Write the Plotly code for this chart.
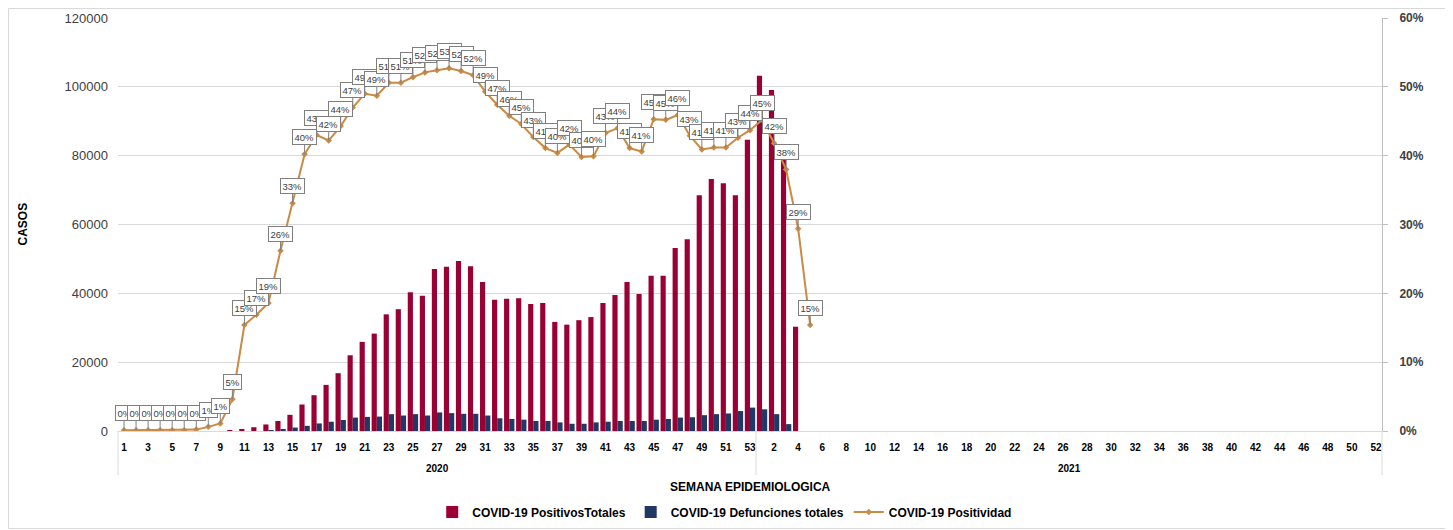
import plotly.graph_objects as go

weeks_2020 = list(range(1, 54))
weeks_2021 = list(range(1, 53))

positivos_2020 = [0, 0, 0, 0, 0, 0, 0, 0, 0, 150, 400, 1100, 1900, 2900, 4700, 7700, 10400, 13400,
                  16800, 22000, 25900, 28300, 33900, 35400, 40300, 39300, 47100, 47700, 49400, 47900,
                  43300, 38100, 38400, 38600, 36900, 37200, 31700, 30900, 32200, 33100, 37200, 39500,
                  43300, 39800, 45100, 45100, 53200, 55700, 68500, 73200, 72000, 68500, 84600]
positivos_2021 = [103200, 99100, 79000, 30300]

defunciones_2020 = [0, 0, 0, 0, 0, 0, 0, 0, 0, 0, 0, 0, 200, 600, 1000, 1500, 2200, 2700, 3200, 3900,
                    4100, 4200, 4900, 4500, 4900, 4500, 5400, 5200, 5000, 5000, 4500, 3700, 3500, 3300,
                    2900, 2900, 2500, 2100, 2100, 2500, 2700, 2900, 2900, 2900, 3300, 3500, 3900, 4000,
                    4600, 4900, 5100, 5800, 6800]
defunciones_2021 = [6300, 4900, 2000]

positividad_2020 = [0.1, 0.1, 0.1, 0.1, 0.1, 0.1, 0.2, 0.6, 1.1, 4.6, 15.4, 16.9, 18.6, 26.2, 33.1,
                    40.2, 43.0, 42.2, 44.3, 47.0, 49.0, 48.7, 50.6, 50.6, 51.4, 52.1, 52.4, 52.7, 52.3,
                    51.7, 49.3, 47.4, 45.8, 44.6, 42.7, 41.1, 40.4, 41.6, 39.8, 39.9, 43.3, 44.0, 41.1,
                    40.6, 45.3, 45.2, 45.9, 42.9, 40.9, 41.2, 41.2, 42.6, 43.7]
positividad_2021 = [45.2, 41.8, 38.0, 29.4, 15.4]

y_ticks_left = [0, 20000, 40000, 60000, 80000, 100000, 120000]
y_ticks_right = [0, 10, 20, 30, 40, 50, 60]

RED = "#9B0034"
NAVY = "#203864"
ORANGE = "#C98A43"
FONT = "Liberation Sans, Arial, sans-serif"

# page body has an 8px margin; size the figure so it fits the 1453x530 window
OFF = 8
W, H = 1453 - OFF, 530 - OFF
ML, MR, MT, MB = 118 - OFF, 71, 18 - OFF, 99
PW, PH = W - ML - MR, H - MT - MB
PLOT_BOTTOM = 431  # screen row of the x axis

cats = [f"2020-{w}" for w in weeks_2020] + [f"2021-{w}" for w in weeks_2021]
week_labels = [str(w) for w in weeks_2020] + [str(w) for w in weeks_2021]
n = len(cats)

def pad(vals):
    return vals + [None] * (len(weeks_2021) - len(vals))

pos = positivos_2020 + pad(positivos_2021)
dfn = defunciones_2020 + pad(defunciones_2021)
ptv = positividad_2020 + pad(positividad_2021)

fig = go.Figure()
fig.add_trace(go.Bar(x=cats, y=pos, name="COVID-19 PositivosTotales", marker_color=RED,
                     marker_line_width=0))
fig.add_trace(go.Bar(x=cats, y=dfn, name="COVID-19 Defunciones totales", marker_color=NAVY,
                     marker_line_width=0))
fig.add_trace(go.Scatter(x=cats, y=ptv, name="COVID-19 Positividad", yaxis="y2",
                         mode="lines+markers", line=dict(color=ORANGE, width=2),
                         marker=dict(symbol="diamond", size=5, color=ORANGE)))

annotations = []
for c, v in zip(cats, ptv):
    if v is None:
        continue
    annotations.append(dict(x=c, y=v, xref="x", yref="y2", text=f"{v:.0f}%",
                            showarrow=True, arrowhead=0, arrowwidth=1, arrowcolor="#808080",
                            ax=0, ay=-17, standoff=0,
                            bgcolor="white", bordercolor="#7F7F7F", borderwidth=1, borderpad=1.5,
                            font=dict(family=FONT, size=9.5, color="#404040")))

def py(pix):
    """paper y for a screen pixel row"""
    return (PLOT_BOTTOM - pix) / PH

def px(pix):
    """paper x for a screen pixel column"""
    return (pix - (ML + OFF)) / PW

frac2020 = len(weeks_2020) / n
common = dict(xref="paper", yref="paper", showarrow=False, xanchor="center", yanchor="middle")
annotations.append(dict(x=frac2020 / 2, y=py(468), text="<b>2020</b>",
                        font=dict(family=FONT, size=10, color="#000000"), **common))
annotations.append(dict(x=frac2020 + (1 - frac2020) / 2, y=py(468), text="<b>2021</b>",
                        font=dict(family=FONT, size=10, color="#000000"), **common))
annotations.append(dict(x=0.5, y=py(487), text="<b>SEMANA EPIDEMIOLOGICA</b>",
                        font=dict(family=FONT, size=12, color="#000000"), **common))
annotations.append(dict(x=px(22), y=0.5, text="<b>CASOS</b>", textangle=-90,
                        font=dict(family=FONT, size=12, color="#000000"), **common))

shapes = []
for xp in [0, frac2020, 1]:
    shapes.append(dict(type="line", xref="paper", yref="paper", x0=xp, x1=xp, y0=0, y1=py(475),
                       line=dict(color="#D9D9D9", width=1)))
# outer chart border (at figure edges)
shapes.append(dict(type="rect", xref="paper", yref="paper",
                   x0=(0.5 - ML) / PW, x1=(W - 1.5 - ML) / PW,
                   y0=-(MB - 1.5) / PH, y1=1 + (MT - 0.5) / PH,
                   line=dict(color="#D9D9D9", width=1)))

fig.update_layout(
    width=W, height=H,
    margin=dict(l=ML, r=MR, t=MT, b=MB, autoexpand=False),
    paper_bgcolor="white", plot_bgcolor="white",
    barmode="group", bargap=0.14, bargroupgap=0,
    font=dict(family=FONT, color="#404040"),
    showlegend=True,
    legend=dict(orientation="h", x=0.48, xanchor="center", y=py(512), yanchor="middle",
                font=dict(family=FONT, size=12, color="#000000", weight="bold"), itemwidth=30,
                traceorder="normal"),
    xaxis=dict(type="category", categoryorder="array", categoryarray=cats,
               range=[-0.5, n - 0.5], automargin=False,
               tickmode="array", tickvals=cats[::2], ticktext=week_labels[::2],
               tickangle=0, ticklabelstandoff=7,
               tickfont=dict(family=FONT, size=10, color="#000000", weight="bold"),
               showgrid=False, showline=True, linecolor="#D9D9D9", linewidth=1,
               ticks="", zeroline=False),
    yaxis=dict(range=[0, 120000], tickvals=y_ticks_left, automargin=False,
               ticktext=[str(v) for v in y_ticks_left],
               showgrid=True, gridcolor="#D9D9D9", gridwidth=1, zeroline=False,
               showline=False, ticks="", ticklabelstandoff=9,
               tickfont=dict(family=FONT, size=13, color="#404040")),
    yaxis2=dict(range=[0, 60], overlaying="y", side="right", tickvals=y_ticks_right,
                automargin=False,
                ticktext=[f"{v}%" for v in y_ticks_right],
                showgrid=False, zeroline=False, showline=True, linecolor="#BFBFBF", linewidth=1,
                ticks="outside", ticklen=5, tickcolor="#BFBFBF", ticklabelstandoff=9,
                tickfont=dict(family=FONT, size=12, color="#404040", weight="bold")),
    annotations=annotations,
    shapes=shapes,
)

fig.write_html("out.html")
